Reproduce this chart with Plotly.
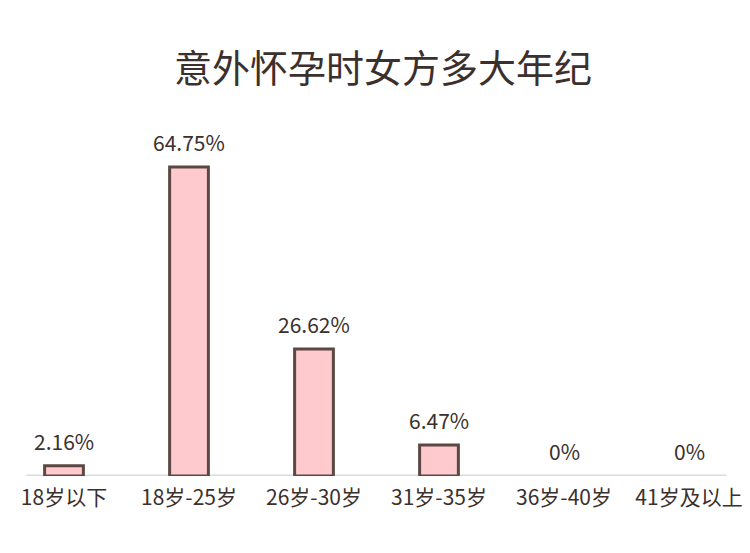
import plotly.graph_objects as go

# 数据
categories = ["18岁以下", "18岁-25岁", "26岁-30岁", "31岁-35岁", "36岁-40岁", "41岁及以上"]
values = [2.16, 64.75, 26.62, 6.47, 0, 0]
labels = ["2.16%", "64.75%", "26.62%", "6.47%", "0%", "0%"]

font_family = "Noto Sans CJK SC"
text_color = "#3b302d"

# 0 值的柱子不画边框
line_widths = [3 if v > 0 else 0 for v in values]

trace = go.Bar(
    x=categories,
    y=values,
    marker=dict(color="#ffcacd", line=dict(color="#5b4843", width=line_widths)),
    hoverinfo="x+y",
)

# 柱顶数值标签
annotations = [
    dict(x=c, y=v, xref="x", yref="y", text=t, showarrow=False,
         yanchor="middle", yshift=25,
         font=dict(family=font_family, size=21, color=text_color))
    for c, v, t in zip(categories, values, labels)
]

layout = go.Layout(
    width=750,
    height=553,
    title=dict(text="意外怀孕时女方多大年纪", x=0.5, xanchor="center", y=0.89, yanchor="middle",
               font=dict(family=font_family, size=38, color=text_color)),
    margin=dict(l=0, r=8, t=110, b=85),
    plot_bgcolor="white",
    paper_bgcolor="white",
    bargap=0.69,
    showlegend=False,
    annotations=annotations,
    xaxis=dict(range=[-0.448, 5.488], showline=False, showgrid=False, zeroline=False, automargin=False,
               ticks="outside", ticklen=3, tickcolor="rgba(0,0,0,0)",
               tickfont=dict(family=font_family, size=21, color=text_color)),
    yaxis=dict(range=[0, 75], visible=False, showgrid=False, zeroline=False, automargin=False),
    shapes=[dict(type="line", xref="x", yref="y", x0=-0.3, x1=5.3, y0=0, y1=0,
                 line=dict(color="#d8dcdc", width=3), layer="below")],
)

fig = go.Figure(data=[trace], layout=layout)
fig.write_html("out.html")
